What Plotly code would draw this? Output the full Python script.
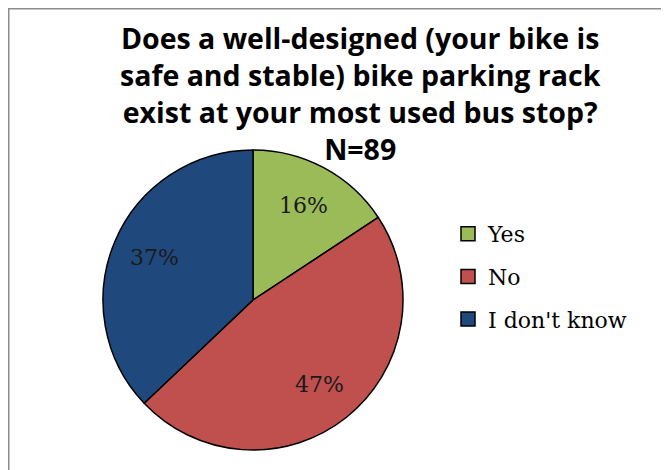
import math
import plotly.graph_objects as go

W, H = 669, 470
OFF = 8  # page body margin offset

categories = ["Yes", "No", "I don't know"]
counts = [14, 42, 33]
colors = ["#9BBB59", "#C0504D", "#1F497D"]
title_lines = [
    "Does a well-designed (your bike is",
    "safe and stable) bike parking rack",
    "exist at your most used bus stop?",
    "N=89",
]


def px(x):
    return (x - OFF) / W


def py(y):
    return 1 - (y - OFF) / H


# pie geometry in page pixels
cx, cy, r = 253, 300, 150
label_frac = 0.715

fig = go.Figure()
fig.add_trace(go.Pie(
    labels=categories,
    values=counts,
    sort=False,
    direction="clockwise",
    rotation=0,
    marker=dict(colors=colors, line=dict(color="#000000", width=1.5)),
    textinfo="none",
    domain=dict(x=[px(cx - r), px(cx + r)], y=[py(cy + r), py(cy - r)]),
    hoverinfo="label+percent",
    showlegend=False,
))

# percentage labels at mid-angle of each slice
total = sum(counts)
cum = 0
for v in counts:
    mid = (cum + v / 2) / total * 2 * math.pi
    cum += v
    lx = cx + label_frac * r * math.sin(mid)
    ly = cy - label_frac * r * math.cos(mid)
    fig.add_annotation(
        x=px(lx), y=py(ly), xref="paper", yref="paper",
        xanchor="center", yanchor="middle", showarrow=False,
        text=f"{round(100 * v / total)}%",
        font=dict(family="DejaVu Serif", size=22, color="#1a1a1a"),
    )

# legend entries (square swatches)
for cat, col in zip(categories, colors):
    fig.add_trace(go.Scatter(
        x=[None], y=[None], mode="markers", name=cat, legendgroup=cat,
        marker=dict(symbol="square", size=14, color=col,
                    line=dict(color="#000000", width=1.5)),
    ))

fig.add_annotation(
    x=px(360), y=py(17), xref="paper", yref="paper",
    xanchor="center", yanchor="top", showarrow=False,
    text="<b>" + "<br>".join(title_lines) + "</b>",
    font=dict(family="Open Sans", size=28.5, color="#000000"),
    align="center",
)

fig.add_shape(type="rect", xref="paper", yref="paper",
              x0=0.75 / W, x1=1.2, y0=-0.2, y1=1 - 0.75 / H,
              line=dict(color="#8c8c8c", width=1.5), fillcolor="rgba(0,0,0,0)")

fig.update_layout(
    width=W, height=H,
    margin=dict(l=0, r=0, t=0, b=0),
    paper_bgcolor="white",
    plot_bgcolor="white",
    showlegend=True,
    xaxis=dict(visible=False),
    yaxis=dict(visible=False),
    legend=dict(
        x=px(448), y=py(213), xanchor="left", yanchor="top",
        font=dict(family="DejaVu Serif", size=22, color="#000000"),
        itemwidth=30, tracegroupgap=11, traceorder="grouped",
        bgcolor="rgba(0,0,0,0)",
    ),
)

fig.write_html("out.html")
